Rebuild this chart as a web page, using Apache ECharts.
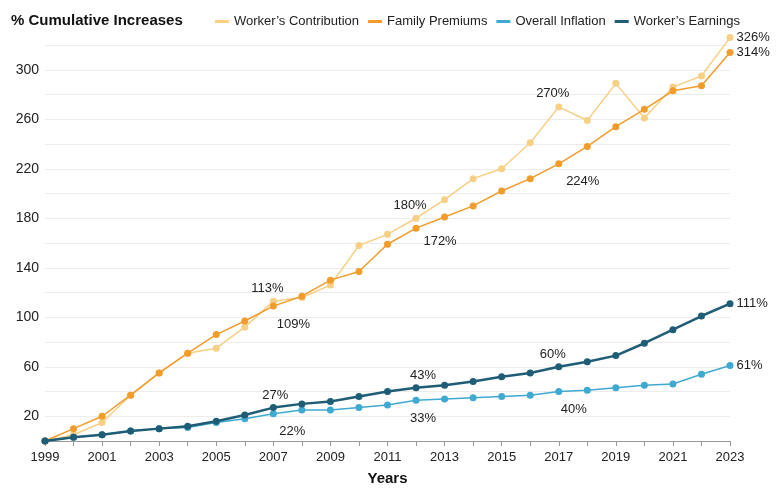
<!DOCTYPE html>
<html>
<head>
<meta charset="utf-8">
<script src="https://cdn.jsdelivr.net/npm/echarts@6/dist/echarts.min.js"></script>
<style>
  html, body { margin: 0; padding: 0; background: #fff; }
  #chart { width: 777px; height: 491px; }
</style>
</head>
<body>
<div id="chart"></div>
<script>
// data
const years = ['1999','2000','2001','2002','2003','2004','2005','2006','2007','2008','2009','2010',
  '2011','2012','2013','2014','2015','2016','2017','2018','2019','2020','2021','2022','2023'];

const workerContribution = [0, 5, 15, 37, 55, 71, 75, 92, 113, 116, 126, 158,
  167, 180, 195, 212, 220, 241, 270, 259, 289, 261, 286, 295, 326];
const familyPremiums = [0, 10, 20, 37, 55, 71, 86, 97, 109, 117, 130, 137,
  159, 172, 181, 190, 202, 212, 224, 238, 254, 268, 283, 287, 314];
const overallInflation = [0, 3, 5, 8, 10, 11, 15, 18, 22, 25, 25, 27,
  29, 33, 34, 35, 36, 37, 40, 41, 43, 45, 46, 54, 61];
const workerEarnings = [0, 3, 5, 8, 10, 12, 16, 21, 27, 30, 32, 36,
  40, 43, 45, 48, 52, 55, 60, 64, 69, 79, 90, 101, 111];

const labeledYears = ['2007', '2012', '2017'];
const lastYear = '2023';

const font = 'Liberation Sans, Arial, Helvetica, sans-serif';

// where the value labels go: above or below the point, nudged by [dx, dy]
function makeData(values, side, dist, offs) {
  return values.map(function (v, i) {
    const y = years[i];
    if (y === lastYear) {
      return { value: v, label: { show: true, position: 'right', distance: 3 } };
    }
    if (labeledYears.indexOf(y) >= 0) {
      return {
        value: v,
        label: {
          show: true,
          position: side,
          distance: dist,
          offset: offs[labeledYears.indexOf(y)]
        }
      };
    }
    return v;
  });
}

function lineSeries(name, color, values, side, dist, offs, width, z) {
  return {
    name: name,
    type: 'line',
    data: makeData(values, side, dist, offs),
    z: z,
    clip: false,
    symbol: 'circle',
    symbolSize: 7,
    lineStyle: { color: color, width: width },
    itemStyle: { color: color },
    label: {
      formatter: '{c}%',
      color: '#222',
      fontSize: 13,
      fontFamily: font
    },
    emphasis: { disabled: true }
  };
}

const chart = echarts.init(document.getElementById('chart'));

const option = {
  animation: false,
  backgroundColor: '#fff',
  title: {
    text: '% Cumulative Increases',
    left: 6,
    top: 8,
    textStyle: { fontSize: 15, fontWeight: 'bold', color: '#111', fontFamily: font }
  },
  legend: {
    left: 210,
    top: 10,
    itemGap: 9,
    itemWidth: 14,
    itemHeight: 3,
    icon: 'rect',
    textStyle: { fontSize: 13, color: '#222', fontFamily: font },
    data: ["Worker\u2019s Contribution", 'Family Premiums', 'Overall Inflation', "Worker\u2019s Earnings"]
  },
  grid: { left: 45, right: 47, top: 45, bottom: 46 },
  xAxis: {
    type: 'category',
    data: years,
    boundaryGap: false,
    name: 'Years',
    nameLocation: 'middle',
    nameGap: 30,
    nameTextStyle: { fontSize: 15, fontWeight: 'bold', color: '#111', fontFamily: font },
    axisLine: { lineStyle: { color: '#999' } },
    axisTick: { interval: 0, length: 5, lineStyle: { color: '#999' } },
    axisLabel: { interval: 1, fontSize: 13, color: '#222', fontFamily: font, margin: 10 },
    splitLine: { show: false }
  },
  yAxis: {
    type: 'value',
    min: 0,
    max: 320,
    interval: 20,
    axisLine: { show: false },
    axisTick: { show: false },
    axisLabel: {
      fontSize: 14,
      color: '#222',
      fontFamily: font,
      margin: 6,
      formatter: function (v) { return v % 40 === 20 ? v : ''; }
    },
    splitLine: { lineStyle: { color: '#ececec' } }
  },
  series: [
    lineSeries("Worker\u2019s Contribution", '#f7cf85', workerContribution, 'top', 3,
      [[-6, 0], [-6, 0], [-6, 0]], 1.5, 2),
    lineSeries('Family Premiums', '#f29c2c', familyPremiums, 'bottom', 8,
      [[20, 0], [24, -5], [24, 0]], 1.5, 3),
    lineSeries('Overall Inflation', '#3fa9d1', overallInflation, 'bottom', 8,
      [[19, 0], [7, 0], [15, 0]], 1.5, 4),
    lineSeries("Worker\u2019s Earnings", '#1f5d76', workerEarnings, 'top', 2,
      [[2, 0], [7, 0], [-6, 0]], 2.5, 5)
  ]
};

chart.setOption(option);
</script>
</body>
</html>
